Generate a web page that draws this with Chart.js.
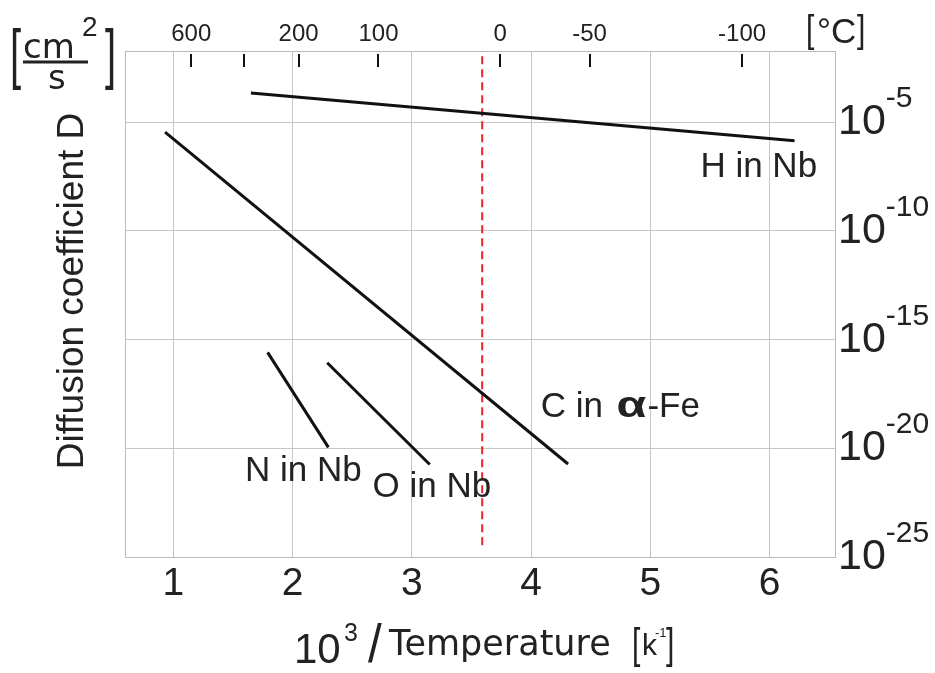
<!DOCTYPE html>
<html>
<head>
<meta charset="utf-8">
<title>Diffusion coefficient vs 1/T</title>
<script src="https://cdn.jsdelivr.net/npm/chart.js@4/dist/chart.umd.min.js"></script>
<style>
  html, body { margin: 0; padding: 0; background: #fff; }
  #chart { display: block; }
</style>
</head>
<body>
<canvas id="chart" width="935" height="673"></canvas>
<script>
// ---------- data ----------
// x: 10^3 / T [1/K], D: diffusion coefficient [cm^2/s]
const hInNbX = [1.65, 6.21];
const hInNbD = [2.2e-4, 1.4e-6];
const cInFeX = [0.93, 4.31];
const cInFeD = [3.5e-6, 1.9e-21];
const nInNbX = [1.79, 2.30];
const nInNbD = [2.6e-16, 1.1e-20];
const oInNbX = [2.29, 3.15];
const oInNbD = [8.7e-17, 1.8e-21];

// room temperature marker (red dashed)
const roomTempX = [3.59, 3.59];
const roomTempD = [3.5e-25, 1.9e-2];

const xTicks = [1, 2, 3, 4, 5, 6];
const yTicks = [1e-5, 1e-10, 1e-15, 1e-20, 1e-25];
const yTickExp = ["-5", "-10", "-15", "-20", "-25"];
const celsiusAt = [1.15, 1.59, 2.05, 2.72, 3.74, 4.49, 5.77];
const celsiusLabels = ["600", "", "200", "100", "0", "-50", "-100"];

const seriesNames = ["H in Nb", "C in α-Fe", "N in Nb", "O in Nb"];

// where the curve names sit (x, log10 D of the text baseline)
const nameSpots = [[5.42, -7.52], [4.08, -18.56], [1.60, -21.5], [2.67, -22.24]];

const xMin = 0.594, xMax = 6.549;
const yMin = 1e-25, yMax = Math.pow(10, -1.72);

const SANS = '"Liberation Sans", Arial, sans-serif';
const WIDE = '"DejaVu Sans", sans-serif';
const INK = "#222";
const GRID = "#c6c6c6";
const FRAME = "#b9b9b9";

function pts(xs, ds) {
  return xs.map((x, i) => ({ x: x, y: ds[i] }));
}

function curve(xs, ds) {
  return {
    data: pts(xs, ds),
    showLine: true,
    borderColor: "#111",
    borderWidth: 3,
    pointRadius: 0,
    borderCapStyle: "butt",
  };
}

// draws a glyph stretched (tall thin brackets, long slash)
function stretched(ctx, ch, x, y, font, sx, sy) {
  ctx.save();
  ctx.translate(x, y);
  ctx.scale(sx, sy);
  ctx.font = font;
  ctx.fillText(ch, 0, 0);
  ctx.restore();
}

// extra text: superscripts, units, axis titles, curve names
const annotate = {
  id: "annotate",
  afterDraw(chart) {
    const ctx = chart.ctx;
    const xs = chart.scales.x, x2 = chart.scales.x2, ys = chart.scales.y;
    const area = chart.chartArea;

    ctx.save();
    ctx.fillStyle = INK;
    ctx.textAlign = "left";
    ctx.textBaseline = "alphabetic";

    // celsius tick marks hanging from the top frame
    ctx.strokeStyle = "#111";
    ctx.lineWidth = 2;
    x2.ticks.forEach((t) => {
      const px = Math.round(x2.getPixelForValue(t.value));
      ctx.beginPath();
      ctx.moveTo(px, area.top + 3);
      ctx.lineTo(px, area.top + 16);
      ctx.stroke();
    });

    // exponents on the right axis
    ctx.font = "43px " + SANS;
    const w10 = ctx.measureText("10").width;
    ctx.font = "30px " + SANS;
    ys.ticks.forEach((t, i) => {
      const py = ys.getPixelForValue(t.value);
      ctx.fillText(yTickExp[i], ys.left + 3 + w10, py - 15);
    });

    // [°C]
    stretched(ctx, "[", 806, 42, "30px " + SANS, 1, 1.3);
    ctx.font = "35px " + SANS;
    ctx.fillText("°C", 817, 43);
    stretched(ctx, "]", 857, 42, "30px " + SANS, 1, 1.3);

    // [cm²/s]
    stretched(ctx, "[", 10, 76, "40px " + SANS, 1, 1.68);
    stretched(ctx, "]", 105, 76, "40px " + SANS, 1, 1.68);
    ctx.font = "34px " + WIDE;
    ctx.fillText("cm", 23, 58);
    ctx.fillText("s", 48, 89);
    ctx.font = "28px " + SANS;
    ctx.fillText("2", 82, 36);
    ctx.strokeStyle = INK;
    ctx.lineWidth = 3;
    ctx.beginPath();
    ctx.moveTo(23, 62);
    ctx.lineTo(88, 62);
    ctx.stroke();

    // y title, rotated
    ctx.save();
    ctx.translate(83, 291);
    ctx.rotate(-Math.PI / 2);
    ctx.textAlign = "center";
    ctx.font = "37px " + SANS;
    ctx.fillText("Diffusion coefficient D", 0, 0);
    ctx.restore();

    // x title: 10³/Temperature [k⁻¹]
    ctx.font = "42px " + SANS;
    ctx.fillText("10", 294, 663);
    ctx.font = "25px " + SANS;
    ctx.fillText("3", 344, 641);
    stretched(ctx, "/", 368, 662, "34px " + SANS, 1.45, 1.6);
    ctx.font = "35px " + WIDE;
    ctx.fillText("Temperature", 389, 655);
    stretched(ctx, "[", 632, 658, "30px " + SANS, 1, 1.42);
    stretched(ctx, "]", 666, 658, "30px " + SANS, 1, 1.42);
    ctx.font = "30px " + SANS;
    ctx.fillText("k", 642, 655);
    ctx.font = "13px " + SANS;
    ctx.fillText("-1", 655, 637);

    // curve names
    nameSpots.forEach((spot, i) => {
      let px = xs.getPixelForValue(spot[0]);
      const py = ys.getPixelForValue(Math.pow(10, spot[1]));
      const name = seriesNames[i];
      ctx.font = "35px " + SANS;
      const a = name.indexOf("α");
      if (a < 0) {
        ctx.fillText(name, px, py);
        return;
      }
      const head = name.slice(0, a), tail = name.slice(a + 1);
      ctx.fillText(head, px, py);
      px += ctx.measureText(head).width + 4;
      ctx.font = "bold 36px " + SANS;
      const wa = ctx.measureText("α").width;
      ctx.save();
      ctx.translate(px, py);
      ctx.scale(1.35, 1);
      ctx.fillText("α", 0, 0);
      ctx.restore();
      px += wa * 1.35 + 1;
      ctx.font = "35px " + SANS;
      ctx.fillText(tail, px, py);
    });

    ctx.restore();
  },
};

Chart.defaults.font.family = SANS;
Chart.defaults.color = INK;

new Chart(document.getElementById("chart"), {
  type: "scatter",
  data: {
    datasets: [
      curve(hInNbX, hInNbD),
      curve(cInFeX, cInFeD),
      curve(nInNbX, nInNbD),
      curve(oInNbX, oInNbD),
      {
        data: pts(roomTempX, roomTempD),
        showLine: true,
        borderColor: "#e8232b",
        borderWidth: 2,
        borderDash: [8, 5],
        pointRadius: 0,
      },
    ],
  },
  options: {
    responsive: false,
    animation: false,
    devicePixelRatio: 1,
    layout: { padding: 0 },
    plugins: {
      legend: { display: false },
      tooltip: { enabled: false },
    },
    scales: {
      x: {
        type: "linear",
        position: "bottom",
        min: xMin,
        max: xMax,
        afterBuildTicks: (s) => { s.ticks = xTicks.map((v) => ({ value: v })); },
        afterFit: (s) => { s.height = 116; },
        ticks: {
          autoSkip: false,
          maxRotation: 0,
          padding: 4,
          color: INK,
          font: { size: 39 },
          callback: (v) => String(v),
        },
        grid: { color: GRID, lineWidth: 1, drawTicks: false },
        border: { color: FRAME, width: 1 },
      },
      x2: {
        type: "linear",
        position: "top",
        min: xMin,
        max: xMax,
        afterBuildTicks: (s) => { s.ticks = celsiusAt.map((v) => ({ value: v })); },
        afterFit: (s) => { s.height = 51; },
        ticks: {
          autoSkip: false,
          maxRotation: 0,
          padding: 2,
          color: INK,
          font: { size: 24 },
          callback: (v, i) => celsiusLabels[i],
        },
        grid: { display: false, drawTicks: false },
        border: { color: FRAME, width: 1 },
      },
      y: {
        type: "logarithmic",
        position: "right",
        min: yMin,
        max: yMax,
        afterBuildTicks: (s) => { s.ticks = yTicks.map((v) => ({ value: v })); },
        afterFit: (s) => { s.width = 100; },
        ticks: {
          autoSkip: false,
          padding: 3,
          color: INK,
          font: { size: 43 },
          callback: () => "10",
        },
        grid: { color: GRID, lineWidth: 1, drawTicks: false },
        border: { color: FRAME, width: 1 },
      },
      yL: {
        type: "linear",
        position: "left",
        min: 0,
        max: 1,
        afterFit: (s) => { s.width = 125; },
        ticks: { display: false },
        grid: { display: false, drawTicks: false },
        border: { color: FRAME, width: 1 },
      },
    },
  },
  plugins: [annotate],
});
</script>
</body>
</html>
